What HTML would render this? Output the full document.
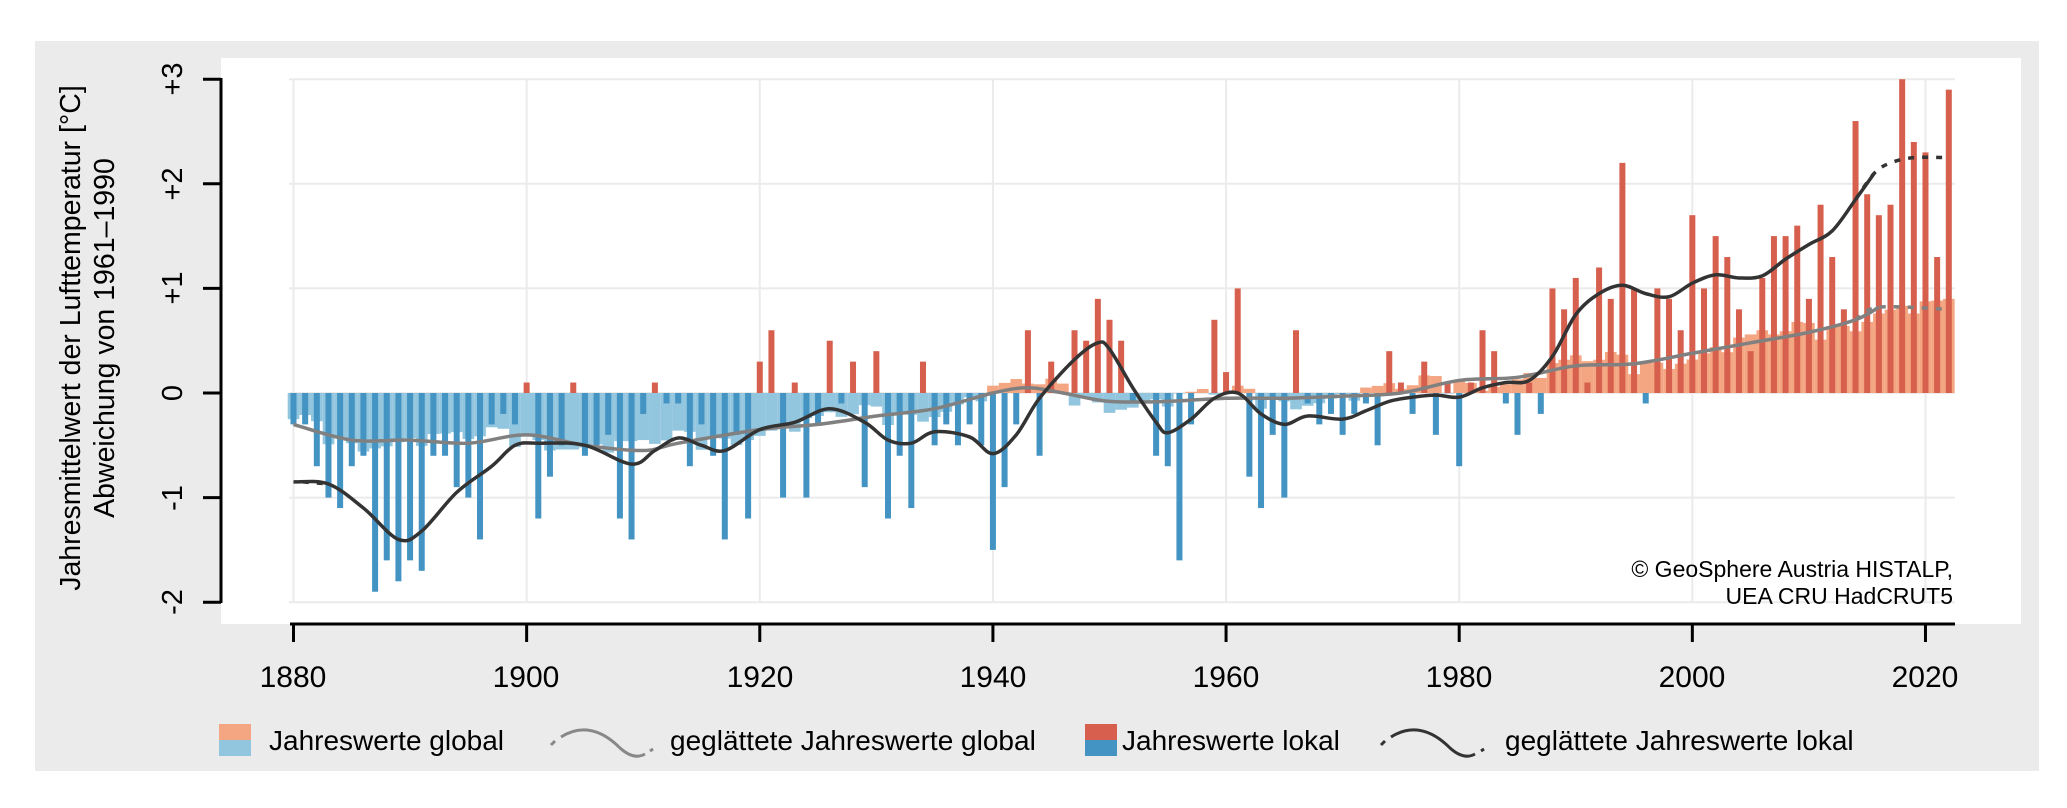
<!DOCTYPE html>
<html><head><meta charset="utf-8"><style>
html,body{margin:0;padding:0;background:#fff;}
body{width:2067px;height:803px;overflow:hidden;font-family:"Liberation Sans",Arial,sans-serif;}
</style></head><body>
<svg id="s" width="2067" height="803" xmlns="http://www.w3.org/2000/svg" font-family="Liberation Sans, Arial, sans-serif">
<rect x="0" y="0" width="2067" height="803" fill="#fff"/>
<rect x="35" y="41" width="2004" height="730" fill="#ebebeb"/>
<rect x="221" y="58" width="1800" height="566" fill="#fff"/>
<g id="grid"></g>
<g id="gbars"></g>
<g id="lbars"></g>
<g id="curves"></g>
<g stroke="#000" stroke-width="3" fill="none">
<line x1="221" y1="78" x2="221" y2="603"/>
<line x1="290" y1="624" x2="1955" y2="624"/>
</g>
<g id="ticks" stroke="#000" stroke-width="3"></g>
<g font-size="29" fill="#000" text-anchor="middle">
<text transform="translate(182,79) rotate(-90)">+3</text>
<text transform="translate(182,184) rotate(-90)">+2</text>
<text transform="translate(182,288) rotate(-90)">+1</text>
<text transform="translate(182,393) rotate(-90)">0</text>
<text transform="translate(182,498) rotate(-90)">-1</text>
<text transform="translate(182,602) rotate(-90)">-2</text>
</g>
<g font-size="30" fill="#000" text-anchor="middle">
<text x="293" y="687">1880</text>
<text x="526" y="687">1900</text>
<text x="760" y="687">1920</text>
<text x="993" y="687">1940</text>
<text x="1226" y="687">1960</text>
<text x="1459" y="687">1980</text>
<text x="1692" y="687">2000</text>
<text x="1925" y="687">2020</text>
</g>
<g font-size="28.5" fill="#000" text-anchor="middle">
<text transform="translate(80,338) rotate(-90)">Jahresmittelwert der Lufttemperatur [°C]</text>
<text transform="translate(114,338) rotate(-90)">Abweichung von 1961–1990</text>
</g>
<g font-size="23" fill="#000" text-anchor="end">
<text x="1953" y="577">© GeoSphere Austria HISTALP,</text>
<text x="1953" y="604">UEA CRU HadCRUT5</text>
</g>
<g font-size="28" fill="#000">
<rect x="219" y="724" width="32" height="16" fill="#f4a582"/>
<rect x="219" y="740" width="32" height="16" fill="#92c5de"/>
<text x="269" y="750">Jahreswerte global</text>
<path d="M551,745 l4,-4 M561,737 C580,725 600,728 620,748 C630,757 638,758 645,754 M650,751 l3,-2" stroke="#888" stroke-width="3" fill="none"/>
<text x="670" y="750">geglättete Jahreswerte global</text>
<rect x="1085" y="724" width="32" height="16" fill="#d6604d"/>
<rect x="1085" y="740" width="32" height="16" fill="#4393c3"/>
<text x="1122" y="750">Jahreswerte lokal</text>
<path d="M1381,745 l4,-4 M1391,737 C1410,725 1430,728 1450,748 C1460,757 1468,758 1475,754 M1481,751 l3,-2" stroke="#333" stroke-width="3" fill="none"/>
<text x="1505" y="750">geglättete Jahreswerte lokal</text>
</g>
</svg>
<script>
var NS="http://www.w3.org/2000/svg";
function X(y){return 293.5+(y-1880)*11.657;}
function Y(v){return 393-v*104.6;}
function el(p,t,a){var e=document.createElementNS(NS,t);for(var k in a)e.setAttribute(k,a[k]);p.appendChild(e);return e;}
var g=document.getElementById('grid');
for(var v=-2;v<=3;v++)el(g,'line',{x1:289,x2:1955,y1:Y(v),y2:Y(v),stroke:'#ebebeb','stroke-width':2});
for(var yr=1880;yr<=2020;yr+=20)el(g,'line',{x1:X(yr),x2:X(yr),y1:79,y2:603,stroke:'#ebebeb','stroke-width':2});
var t=document.getElementById('ticks');
for(var v=-2;v<=3;v++)el(t,'line',{x1:203,x2:221,y1:Y(v),y2:Y(v)});
for(var yr=1880;yr<=2020;yr+=20)el(t,'line',{x1:X(yr),x2:X(yr),y1:624,y2:642});
var loc=[-0.3,-0.3,-0.7,-1.0,-1.1,-0.7,-0.6,-1.9,-1.6,-1.8,-1.6,-1.7,-0.6,-0.6,-0.9,-1.0,-1.4,-0.3,-0.2,-0.3,
0.1,-1.2,-0.8,-0.5,0.1,-0.6,-0.5,-0.4,-1.2,-1.4,-0.2,0.1,-0.1,-0.1,-0.7,-0.3,-0.6,-1.4,-0.4,-1.2,
0.3,0.6,-1.0,0.1,-1.0,-0.3,0.5,-0.1,0.3,-0.9,0.4,-1.2,-0.6,-1.1,0.3,-0.5,-0.3,-0.5,-0.3,-0.5,
-1.5,-0.9,-0.3,0.6,-0.6,0.3,0.0,0.6,0.5,0.9,0.7,0.5,-0.1,0.0,-0.6,-0.7,-1.6,-0.3,0.0,0.7,
0.2,1.0,-0.8,-1.1,-0.4,-1.0,0.6,-0.1,-0.3,-0.2,-0.4,-0.2,-0.1,-0.5,0.4,0.1,-0.2,0.3,-0.4,0.1,
-0.7,0.1,0.6,0.4,-0.1,-0.4,0.1,-0.2,1.0,0.8,1.1,0.1,1.2,0.9,2.2,1.0,-0.1,1.0,0.9,0.6,
1.7,1.0,1.5,1.3,0.8,0.4,1.1,1.5,1.5,1.6,0.9,1.8,1.3,0.8,2.6,1.9,1.7,1.8,3.0,2.4,2.3,1.3,2.9];
var gk=[[1880,-0.3],[1885,-0.45],[1890,-0.45],[1895,-0.48],[1900,-0.4],[1905,-0.5],[1910,-0.55],[1913,-0.48],[1920,-0.35],[1925,-0.3],[1930,-0.22],[1935,-0.15],[1940,0.0],[1943,0.05],[1946,0.0],[1950,-0.08],[1955,-0.08],[1960,-0.05],[1965,-0.05],[1970,-0.03],[1975,0.0],[1980,0.12],[1985,0.15],[1990,0.26],[1995,0.28],[2000,0.38],[2005,0.48],[2010,0.58],[2014,0.7],[2016,0.82],[2022,0.8]];
function interp(k,x){for(var i=0;i<k.length-1;i++){if(x<=k[i+1][0]){var f=(x-k[i][0])/(k[i+1][0]-k[i][0]);return k[i][1]+f*(k[i+1][1]-k[i][1]);}}return k[k.length-1][1];}
var noise=[0.05,-0.08,0.1,-0.03,0.07,-0.1,0.02,0.12,-0.06,0.04,-0.11,0.08,0.0,-0.05,0.09,-0.02];
var gb=document.getElementById('gbars'),lb=document.getElementById('lbars');
for(var i=0;i<loc.length;i++){var yr=1880+i;var gv=interp(gk,yr)+noise[(i*7)%16];
 el(gb,'rect',{x:X(yr)-5.8,width:11.66,y:Math.min(Y(0),Y(gv)),height:Math.abs(gv)*104.6,fill:gv>=0?'#f4a582':'#92c5de'});
 var v=loc[i];el(lb,'rect',{x:X(yr)-3,width:6,y:Math.min(Y(0),Y(v)),height:Math.abs(v)*104.6,fill:v>=0?'#d6604d':'#4393c3'});}
var lk=[[1880,-0.85],[1883,-0.87],[1886,-1.1],[1889,-1.4],[1891,-1.32],[1894,-0.95],[1897,-0.7],[1899,-0.5],[1901,-0.48],[1905,-0.5],[1909,-0.68],[1911,-0.55],[1913,-0.43],[1915,-0.5],[1917,-0.55],[1920,-0.35],[1923,-0.28],[1926,-0.15],[1929,-0.28],[1931,-0.45],[1933,-0.48],[1935,-0.37],[1938,-0.42],[1940,-0.58],[1942,-0.4],[1944,-0.05],[1947,0.32],[1949,0.48],[1950,0.42],[1952,0.05],[1954,-0.28],[1955,-0.38],[1957,-0.25],[1959,-0.05],[1961,0.0],[1963,-0.2],[1965,-0.3],[1967,-0.22],[1970,-0.25],[1972,-0.17],[1974,-0.08],[1976,-0.04],[1978,-0.02],[1980,-0.04],[1982,0.05],[1984,0.1],[1986,0.12],[1988,0.35],[1990,0.75],[1992,0.95],[1994,1.03],[1996,0.95],[1998,0.92],[2000,1.05],[2002,1.13],[2004,1.1],[2006,1.12],[2008,1.28],[2010,1.42],[2012,1.55],[2014,1.85],[2015.6,2.1],[2017,2.2],[2019,2.25],[2022,2.25]];
function path(k,a,b){var pts=k.filter(function(p){return p[0]>=a&&p[0]<=b;});if(k.indexOf(pts[0])>0)pts.unshift(k[k.indexOf(pts[0])-1]);
 var P=pts.map(function(p){return[X(p[0]),Y(p[1])];});var d='M'+P[0][0]+','+P[0][1];
 for(var i=0;i<P.length-1;i++){var p0=P[Math.max(0,i-1)],p1=P[i],p2=P[i+1],p3=P[Math.min(P.length-1,i+2)];
 d+=' C'+(p1[0]+(p2[0]-p0[0])/6)+','+(p1[1]+(p2[1]-p0[1])/6)+' '+(p2[0]-(p3[0]-p1[0])/6)+','+(p2[1]-(p3[1]-p1[1])/6)+' '+p2[0]+','+p2[1];}return d;}
var c=document.getElementById('curves');
el(c,'path',{d:path(gk,1880,2016),stroke:'#808080','stroke-width':3.5,fill:'none'});
el(c,'path',{d:path(gk,2016,2022),stroke:'#808080','stroke-width':3.5,fill:'none','stroke-dasharray':'6,8'});
el(c,'path',{d:path(lk,1883,2015.6),stroke:'#333','stroke-width':3.5,fill:'none'});
el(c,'path',{d:'M'+X(1880.8)+','+Y(-0.85)+' L'+X(1883)+','+Y(-0.87),stroke:'#333','stroke-width':3.5,fill:'none','stroke-dasharray':'6,8'});
el(c,'path',{d:path(lk,2015.6,2022),stroke:'#333','stroke-width':3.5,fill:'none','stroke-dasharray':'6,8'});
</script>
</body></html>
